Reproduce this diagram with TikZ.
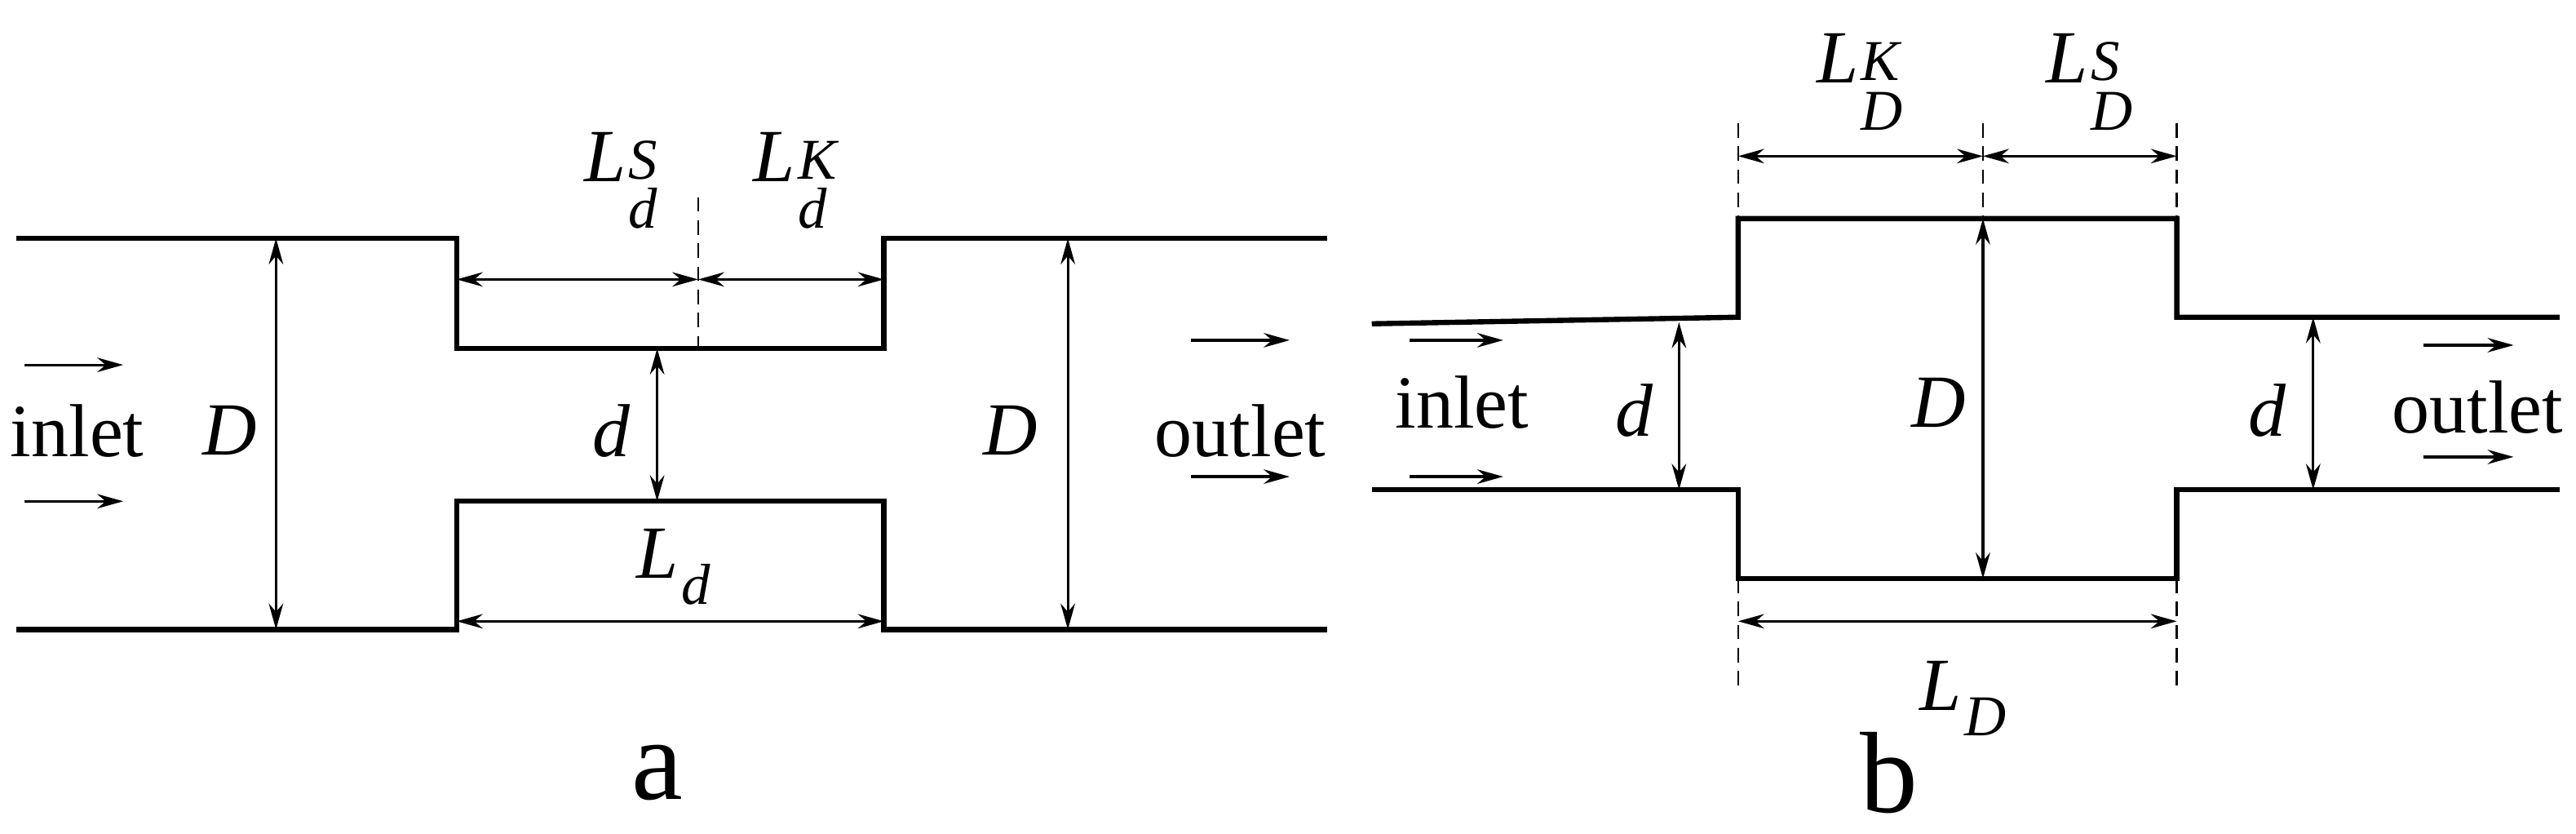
\documentclass[tikz,border=0pt]{standalone}
\usepackage{fontspec}
\setmainfont{Liberation Serif}
\usetikzlibrary{arrows.meta}
\newcommand\myLsup[2]{L\kern1pt\raisebox{-9pt}{\fontsize{20}{20}\selectfont\begin{tabular}{@{}l@{}}#1\\[-3pt]#2\end{tabular}}}
\newcommand\myLsub[1]{L\kern1pt\raisebox{-9pt}{\fontsize{20}{20}\selectfont #1}}
\begin{document}
\begin{tikzpicture}[x=0.02cm,y=-0.02cm,
 wall/.style={line width=1.8pt},
 dim/.style={line width=0.9pt,{Stealth[length=9pt,width=5pt]}-{Stealth[length=9pt,width=5pt]}},
 flow/.style={line width=0.9pt,-{Stealth[length=9pt,width=5pt]}},
 dsh/.style={line width=0.7pt,dash pattern=on 5pt off 3pt},
 lab/.style={font=\fontsize{26}{30}\selectfont\itshape,inner sep=0pt},
 txt/.style={font=\fontsize{26}{30}\selectfont,inner sep=0pt},
 big/.style={font=\fontsize{40}{44}\selectfont,inner sep=0pt}]
\useasboundingbox (0,0) rectangle (1568,507);
% panel a
\draw[wall] (10,145) -- (278,145) -- (278,212) -- (538,212) -- (538,145) -- (808,145);
\draw[wall] (10,383) -- (278,383) -- (278,305) -- (538,305) -- (538,383) -- (808,383);
\coordinate (aD1t) at (168,145); \coordinate (aD1b) at (168,383);
\draw[dim] (aD1t) -- (aD1b);
\coordinate (aD2t) at (650,145); \coordinate (aD2b) at (650,383);
\draw[dim] (aD2t) -- (aD2b);
\coordinate (adt) at (400,212); \coordinate (adb) at (400,305);
\draw[dim] (adt) -- (adb);
\coordinate (adsT) at (425,120); \coordinate (adsB) at (425,212);
\draw[dsh] (adsT) -- (adsB);
\coordinate (aL1) at (278,170); \coordinate (aL2) at (425,170); \coordinate (aL3) at (538,170);
\draw[dim] (aL1) -- (aL2); \draw[dim] (aL2) -- (aL3);
\coordinate (aB1) at (278,378); \coordinate (aB2) at (538,378);
\draw[dim] (aB1) -- (aB2);
\node[lab] (aD1) at (140,262) {D};
\node[lab] (aD2) at (615,262) {D};
\node[lab] (ad) at (372,262) {d};
\node[lab] (aLS) at (378,115) {\myLsup{S}{d}};
\node[lab] (aLK) at (484,115) {\myLsup{K}{d}};
\node[lab] (aLd) at (410,345) {\myLsub{d}};
\node[txt] (ain) at (47,262) {inlet};
\node[txt] (aout) at (755,262) {outlet};
\coordinate (af1a) at (15,222); \coordinate (af1b) at (75,222);
\coordinate (af2a) at (15,305); \coordinate (af2b) at (75,305);
\coordinate (af3a) at (725,207); \coordinate (af3b) at (785,207);
\coordinate (af4a) at (725,290); \coordinate (af4b) at (785,290);
\draw[flow] (af1a) -- (af1b); \draw[flow] (af2a) -- (af2b);
\draw[flow] (af3a) -- (af3b); \draw[flow] (af4a) -- (af4b);
\node[big] (la) at (400,470) {a};
% panel b
\draw[wall] (835,197) -- (1058,193) -- (1058,133) -- (1325,133) -- (1325,193) -- (1558,193);
\draw[wall] (835,298) -- (1058,298) -- (1058,352) -- (1325,352) -- (1325,298) -- (1558,298);
\draw[dsh] (1058,75) -- (1058,133); \draw[dsh] (1058,352) -- (1058,420);
\draw[dsh] (1325,75) -- (1325,133); \draw[dsh] (1325,352) -- (1325,420);
\draw[dsh] (1207,75) -- (1207,133);
\coordinate (bT1) at (1058,95); \coordinate (bT2) at (1207,95); \coordinate (bT3) at (1325,95);
\draw[dim] (bT1) -- (bT2); \draw[dim] (bT2) -- (bT3);
\coordinate (bDt) at (1207,133); \coordinate (bDb) at (1207,352);
\draw[dim] (bDt) -- (bDb);
\coordinate (bd1t) at (1022,196); \coordinate (bd1b) at (1022,298);
\draw[dim] (bd1t) -- (bd1b);
\coordinate (bd2t) at (1408,193); \coordinate (bd2b) at (1408,298);
\draw[dim] (bd2t) -- (bd2b);
\coordinate (bB1) at (1058,378); \coordinate (bB2) at (1325,378);
\draw[dim] (bB1) -- (bB2);
\node[lab] (bLK) at (1132,55) {\myLsup{K}{D}};
\node[lab] (bLS) at (1272,55) {\myLsup{S}{D}};
\node[lab] (bD) at (1180,245) {D};
\node[lab] (bd1) at (995,250) {d};
\node[lab] (bd2) at (1380,250) {d};
\node[lab] (bLD) at (1195,425) {\myLsub{D}};
\node[txt] (bin) at (890,245) {inlet};
\node[txt] (bout) at (1508,248) {outlet};
\coordinate (bf1a) at (858,207); \coordinate (bf1b) at (915,207);
\coordinate (bf2a) at (858,290); \coordinate (bf2b) at (915,290);
\coordinate (bf3a) at (1475,210); \coordinate (bf3b) at (1530,210);
\coordinate (bf4a) at (1475,278); \coordinate (bf4b) at (1530,278);
\draw[flow] (bf1a) -- (bf1b); \draw[flow] (bf2a) -- (bf2b);
\draw[flow] (bf3a) -- (bf3b); \draw[flow] (bf4a) -- (bf4b);
\node[big] (lb) at (1150,470) {b};
\end{tikzpicture}
\end{document}
